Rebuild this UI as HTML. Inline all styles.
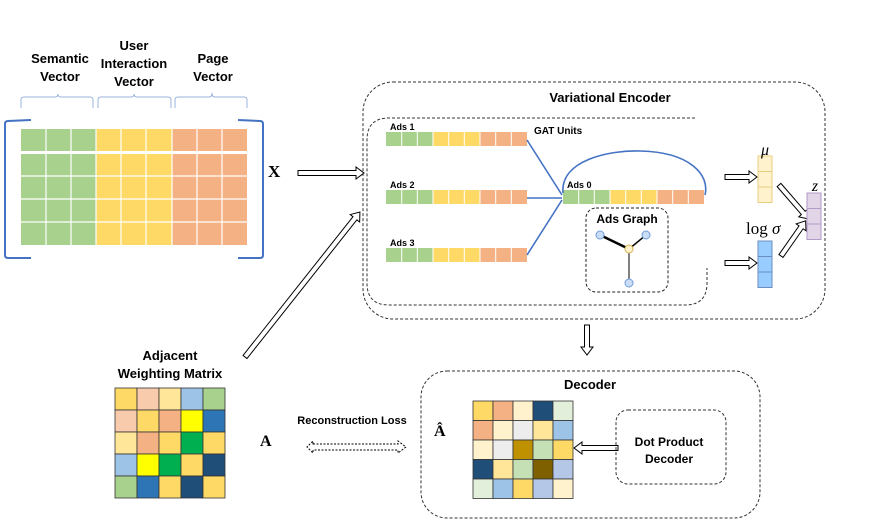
<!DOCTYPE html>
<html><head><meta charset="utf-8"><style>
html,body{margin:0;padding:0;background:#fff;width:872px;height:520px;overflow:hidden}
text{font-family:"Liberation Sans",sans-serif;font-weight:bold;fill:#000}
.m{font-family:"Liberation Serif",serif}
.n{font-weight:normal}
</style></head><body>
<svg width="872" height="520" viewBox="0 0 872 520" xmlns="http://www.w3.org/2000/svg">
<defs>
<g id="bar">
<rect x="0" y="0" width="47" height="14" fill="#a9d18e"/>
<rect x="47" y="0" width="47" height="14" fill="#ffd966"/>
<rect x="94" y="0" width="47" height="14" fill="#f4b183"/>
<g stroke="#fff" stroke-width="1"><line x1="15.7" y1="0" x2="15.7" y2="14"/><line x1="31.3" y1="0" x2="31.3" y2="14"/><line x1="47" y1="0" x2="47" y2="14"/><line x1="62.7" y1="0" x2="62.7" y2="14"/><line x1="78.3" y1="0" x2="78.3" y2="14"/><line x1="94" y1="0" x2="94" y2="14"/><line x1="109.7" y1="0" x2="109.7" y2="14"/><line x1="125.3" y1="0" x2="125.3" y2="14"/></g>
</g>
</defs>
<!-- top matrix -->
<rect x="21" y="129" width="75" height="116" fill="#a9d18e"/>
<rect x="96" y="129" width="76" height="116" fill="#ffd966"/>
<rect x="172" y="129" width="75" height="116" fill="#f4b183"/>
<g stroke="#fff" stroke-width="1.2">
<line x1="46" y1="129" x2="46" y2="245"/><line x1="71" y1="129" x2="71" y2="245"/><line x1="96" y1="129" x2="96" y2="245"/><line x1="121" y1="129" x2="121" y2="245"/><line x1="146" y1="129" x2="146" y2="245"/><line x1="172" y1="129" x2="172" y2="245"/><line x1="197" y1="129" x2="197" y2="245"/><line x1="222" y1="129" x2="222" y2="245"/>
<line x1="21" y1="176" x2="247" y2="176"/><line x1="21" y1="199" x2="247" y2="199"/><line x1="21" y1="222" x2="247" y2="222"/>
</g>
<rect x="21" y="151" width="226" height="3" fill="#fff"/>
<g fill="none" stroke="#4472c4" stroke-width="2">
<path d="M31 120 L8 121 Q5 121 5 124 L5 255 Q5 258 8 258 L31 258"/>
<path d="M238 120 L260 121 Q263 121 263 124 L263 255 Q263 258 260 258 L238 258"/>
</g>
<g fill="none" stroke="#9bb3dd" stroke-width="1">
<path d="M21 108 L21 100 Q21 97 24 97 L55 97 Q58 97 58 94 Q58 97 61 97 L90 97 Q93 97 93 100 L93 108"/>
<path d="M98 108 L98 100 Q98 97 101 97 L131 97 Q134 97 134 94 Q134 97 137 97 L168 97 Q171 97 171 100 L171 108"/>
<path d="M175 108 L175 100 Q175 97 178 97 L209 97 Q212 97 212 93 Q212 97 215 97 L244 97 Q247 97 247 100 L247 108"/>
</g>
<g font-size="13" text-anchor="middle">
<text x="60" y="63">Semantic</text><text x="60" y="81">Vector</text>
<text x="134" y="50">User</text><text x="134" y="68">Interaction</text><text x="134" y="86">Vector</text>
<text x="213" y="63">Page</text><text x="213" y="81">Vector</text>
</g>
<text class="m" x="268" y="177" font-size="17">X</text>

<!-- hollow arrows -->
<g fill="#fff" stroke="#000" stroke-width="1">
<g transform="translate(298,173)"><polygon points="0,-2.5 58,-2.5 58,-6 66,0 58,6 58,2.5 0,2.5"/></g>
<g transform="translate(245,357) rotate(-51.6)"><polygon points="0,-2.5 177,-2.5 177,-6 185,0 177,6 177,2.5 0,2.5"/></g>
<g transform="translate(725,177)"><polygon points="0,-2.5 24,-2.5 24,-6 32,0 24,6 24,2.5 0,2.5"/></g>
<g transform="translate(725,263)"><polygon points="0,-2.5 24,-2.5 24,-6 32,0 24,6 24,2.5 0,2.5"/></g>
<g transform="translate(779,185) rotate(49)"><polygon points="0,-2.5 37,-2.5 37,-6 45,0 37,6 37,2.5 0,2.5"/></g>
<g transform="translate(781,256) rotate(-55)"><polygon points="0,-2.5 35,-2.5 35,-6 43,0 35,6 35,2.5 0,2.5"/></g>
<g transform="translate(587,325) rotate(90)"><polygon points="0,-2.5 22,-2.5 22,-6 30,0 22,6 22,2.5 0,2.5"/></g>
<g transform="translate(618,448) rotate(180)"><polygon points="0,-2.5 36,-2.5 36,-6 44,0 36,6 36,2.5 0,2.5"/></g>
</g>
<g fill="#fff" stroke="#000" stroke-width="1" stroke-dasharray="2,1.5">
<polygon points="313,444 398,444 398,441 406,447 398,453 398,450 313,450 313,453 307,447 313,441"/>
</g>

<!-- encoder -->
<rect x="363" y="82" width="462" height="237" rx="30" fill="none" stroke="#333" stroke-width="1" stroke-dasharray="3,2"/>
<path d="M695 118 L389 118 Q367 118 367 140 L367 283 Q367 305 389 305 L685 305 Q707 305 707 283 L707 268" fill="none" stroke="#333" stroke-width="1" stroke-dasharray="3,2"/>
<text x="610" y="102" font-size="13" text-anchor="middle">Variational Encoder</text>
<use href="#bar" x="386" y="132"/>
<use href="#bar" x="386" y="190"/>
<use href="#bar" x="386" y="248"/>
<use href="#bar" x="563" y="190"/>
<g font-size="9"><text x="390" y="130">Ads 1</text><text x="390" y="188">Ads 2</text><text x="390" y="246">Ads 3</text><text x="567" y="188">Ads 0</text><text x="534" y="134" font-size="10">GAT Units</text></g>
<g fill="none" stroke="#4472c4" stroke-width="1.6">
<line x1="527" y1="140" x2="562" y2="195"/>
<line x1="527" y1="198" x2="562" y2="198"/>
<line x1="527" y1="255" x2="562" y2="200"/>
<path d="M563 193 C560 160 610 150 640 151 C690 152 710 175 705 195"/>
</g>
<rect x="586" y="208" width="82" height="84" rx="10" fill="none" stroke="#222" stroke-dasharray="3,2"/>
<text x="627" y="223" font-size="12" text-anchor="middle">Ads Graph</text>
<g stroke="#000"><line x1="600" y1="235" x2="629" y2="249" stroke-width="2.5"/><line x1="646" y1="235" x2="629" y2="249" stroke-width="1.5"/><line x1="629" y1="249" x2="629" y2="283" stroke-width="1"/></g>
<g stroke="#6f9bd8" fill="#c9ddf7"><circle cx="600" cy="235" r="4"/><circle cx="646" cy="235" r="4"/><circle cx="629" cy="283" r="4"/></g>
<circle cx="629" cy="249" r="4" fill="#fff2cc" stroke="#d6b656"/>
<!-- mu sigma z -->
<g stroke="#e8cc80" fill="#fff2cc"><rect x="758" y="156" width="14" height="15.5"/><rect x="758" y="171.5" width="14" height="15.5"/><rect x="758" y="187" width="14" height="15.5"/></g>
<g stroke="#6c8ebf" fill="#99ccff"><rect x="758" y="241" width="14" height="15.5"/><rect x="758" y="256.5" width="14" height="15.5"/><rect x="758" y="272" width="14" height="15.5"/></g>
<g stroke="#b39bc8" fill="#e1d5e7"><rect x="807" y="193" width="14" height="15.5"/><rect x="807" y="208.5" width="14" height="15.5"/><rect x="807" y="224" width="14" height="15.5"/></g>
<text class="m n" x="765" y="155" font-size="16" font-style="italic" text-anchor="middle">μ</text>
<text class="m n" x="746" y="234" font-size="17">log <tspan font-style="italic">σ</tspan></text>
<text class="m n" x="815" y="191" font-size="16" font-style="italic" text-anchor="middle">z</text>

<!-- adjacent matrix -->
<text x="170" y="360" font-size="13" text-anchor="middle">Adjacent</text>
<text x="170" y="378" font-size="13" text-anchor="middle">Weighting Matrix</text>
<g stroke="#333" stroke-width="0.8">
<rect x="115" y="388" width="22" height="22" fill="#ffd966"/><rect x="137" y="388" width="22" height="22" fill="#f8cbad"/><rect x="159" y="388" width="22" height="22" fill="#ffe699"/><rect x="181" y="388" width="22" height="22" fill="#9dc3e6"/><rect x="203" y="388" width="22" height="22" fill="#a9d18e"/>
<rect x="115" y="410" width="22" height="22" fill="#f8cbad"/><rect x="137" y="410" width="22" height="22" fill="#ffd966"/><rect x="159" y="410" width="22" height="22" fill="#f4b183"/><rect x="181" y="410" width="22" height="22" fill="#ffff00"/><rect x="203" y="410" width="22" height="22" fill="#2e75b6"/>
<rect x="115" y="432" width="22" height="22" fill="#ffe699"/><rect x="137" y="432" width="22" height="22" fill="#f4b183"/><rect x="159" y="432" width="22" height="22" fill="#ffd966"/><rect x="181" y="432" width="22" height="22" fill="#00b050"/><rect x="203" y="432" width="22" height="22" fill="#ffd966"/>
<rect x="115" y="454" width="22" height="22" fill="#9dc3e6"/><rect x="137" y="454" width="22" height="22" fill="#ffff00"/><rect x="159" y="454" width="22" height="22" fill="#00b050"/><rect x="181" y="454" width="22" height="22" fill="#ffd966"/><rect x="203" y="454" width="22" height="22" fill="#1f4e79"/>
<rect x="115" y="476" width="22" height="22" fill="#a9d18e"/><rect x="137" y="476" width="22" height="22" fill="#2e75b6"/><rect x="159" y="476" width="22" height="22" fill="#ffd966"/><rect x="181" y="476" width="22" height="22" fill="#1f4e79"/><rect x="203" y="476" width="22" height="22" fill="#ffd966"/>
</g>
<text class="m" x="260" y="446" font-size="16">A</text>
<text x="352" y="424" font-size="11" text-anchor="middle">Reconstruction Loss</text>

<!-- decoder -->
<rect x="421" y="371" width="339" height="147" rx="26" fill="none" stroke="#333" stroke-dasharray="3,2"/>
<text x="590" y="389" font-size="13" text-anchor="middle">Decoder</text>
<text class="m" x="434" y="436" font-size="16">Â</text>
<g stroke="#333" stroke-width="0.8">
<rect x="473" y="401" width="20" height="19.5" fill="#ffd966"/><rect x="493" y="401" width="20" height="19.5" fill="#f4b183"/><rect x="513" y="401" width="20" height="19.5" fill="#fff2cc"/><rect x="533" y="401" width="20" height="19.5" fill="#1f4e79"/><rect x="553" y="401" width="20" height="19.5" fill="#e2efda"/>
<rect x="473" y="420.5" width="20" height="19.5" fill="#f4b183"/><rect x="493" y="420.5" width="20" height="19.5" fill="#fff2cc"/><rect x="513" y="420.5" width="20" height="19.5" fill="#ededed"/><rect x="533" y="420.5" width="20" height="19.5" fill="#ffe699"/><rect x="553" y="420.5" width="20" height="19.5" fill="#9dc3e6"/>
<rect x="473" y="440" width="20" height="19.5" fill="#fff2cc"/><rect x="493" y="440" width="20" height="19.5" fill="#ededed"/><rect x="513" y="440" width="20" height="19.5" fill="#bf9000"/><rect x="533" y="440" width="20" height="19.5" fill="#c5e0b4"/><rect x="553" y="440" width="20" height="19.5" fill="#ffd966"/>
<rect x="473" y="459.5" width="20" height="19.5" fill="#1f4e79"/><rect x="493" y="459.5" width="20" height="19.5" fill="#ffe699"/><rect x="513" y="459.5" width="20" height="19.5" fill="#c5e0b4"/><rect x="533" y="459.5" width="20" height="19.5" fill="#7f6000"/><rect x="553" y="459.5" width="20" height="19.5" fill="#b4c7e7"/>
<rect x="473" y="479" width="20" height="19.5" fill="#e2efda"/><rect x="493" y="479" width="20" height="19.5" fill="#9dc3e6"/><rect x="513" y="479" width="20" height="19.5" fill="#ffd966"/><rect x="533" y="479" width="20" height="19.5" fill="#b4c7e7"/><rect x="553" y="479" width="20" height="19.5" fill="#fff2cc"/>
</g>
<rect x="616" y="410" width="110" height="74" rx="12" fill="none" stroke="#333" stroke-dasharray="3,2"/>
<text x="669" y="446" font-size="12" text-anchor="middle">Dot Product</text>
<text x="669" y="463" font-size="12" text-anchor="middle">Decoder</text>
</svg>
</body></html>
